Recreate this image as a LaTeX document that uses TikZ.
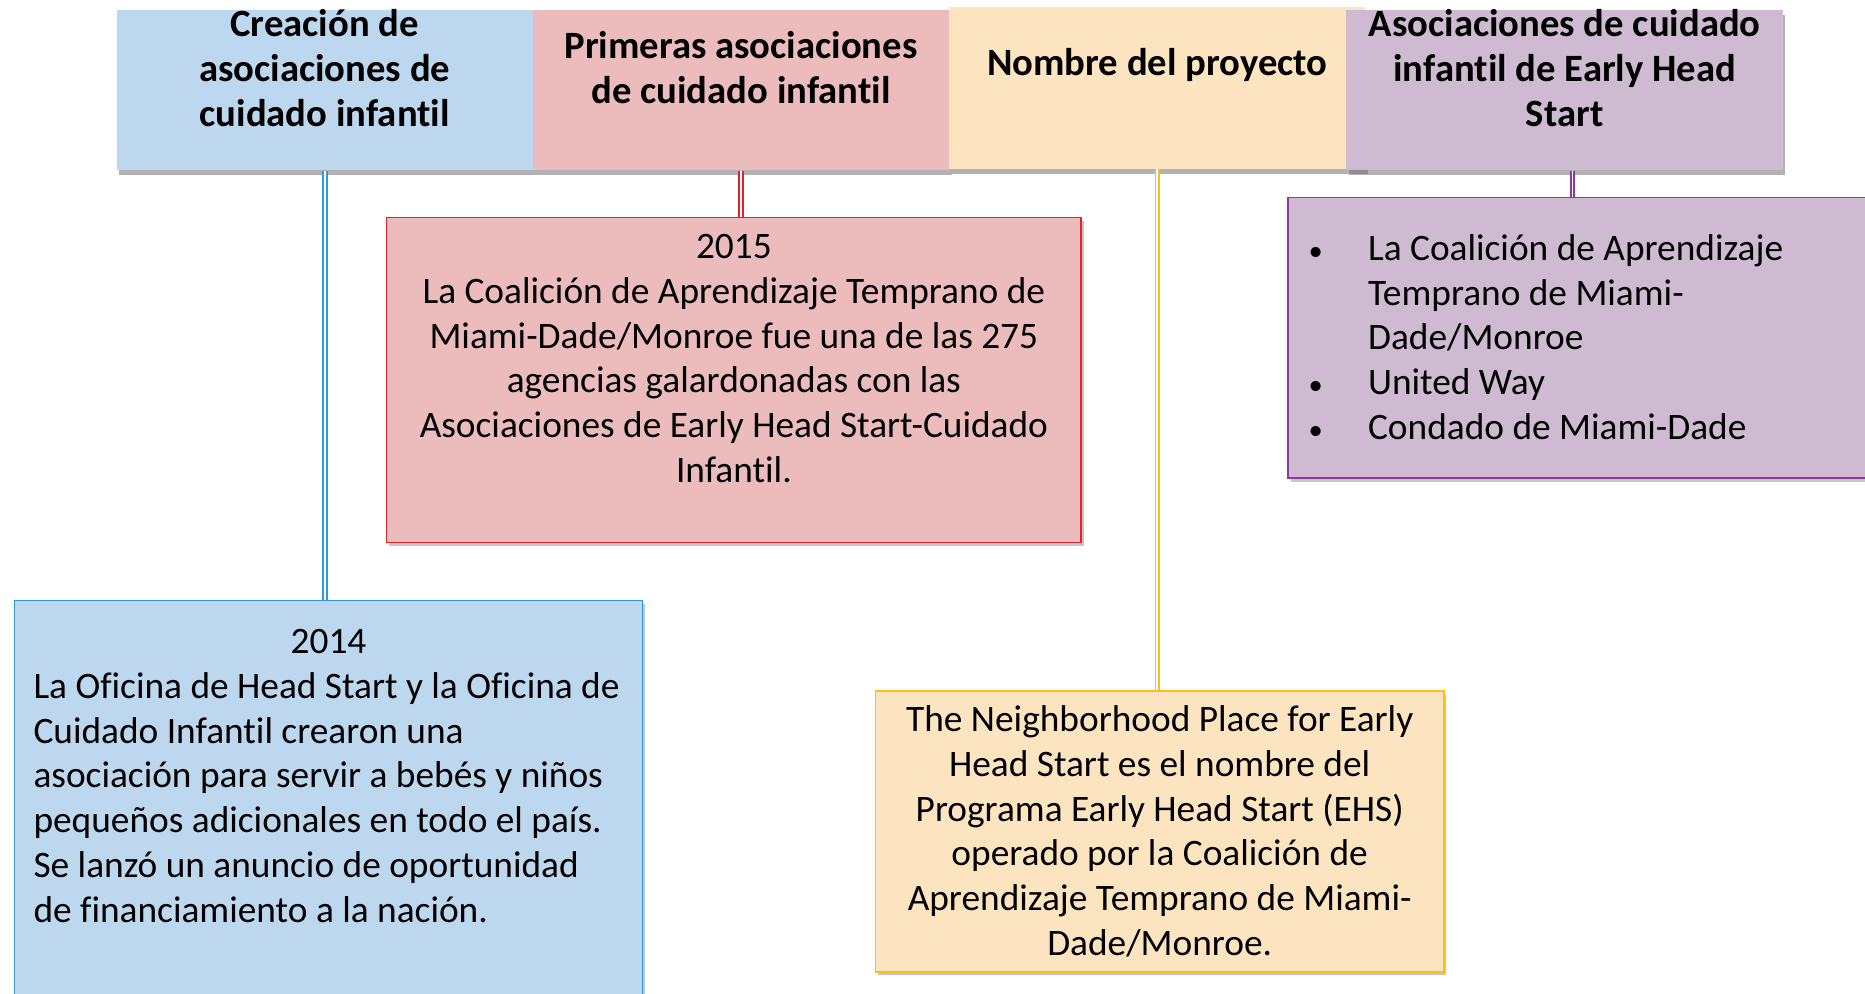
\documentclass[tikz,border=0pt]{standalone}
\usepackage{fontspec}
\setmainfont{Carlito}[Ligatures=NoCommon]
\usetikzlibrary{shadows}
\definecolor{blueFill}{HTML}{BDD7EE}
\definecolor{blueLine}{HTML}{2E9BD8}
\definecolor{redFill}{HTML}{ECBBBC}
\definecolor{redLine}{HTML}{E0242E}
\definecolor{yellowFill}{HTML}{FDE4C0}
\definecolor{yellowLine}{HTML}{FCBC22}
\definecolor{purpleFill}{HTML}{CEBBD2}
\definecolor{purpleLine}{HTML}{8F36A0}
\def\bodysize{\fontsize{31.4}{37.6}\selectfont}
\def\headsize{\fontsize{32.5}{37.8}\selectfont}
\def\bul{\makebox[50pt][l]{\fontsize{24}{24}\selectfont\textbullet}}
\def\nobul{\hspace*{50pt}}

\begin{document}
\begin{tikzpicture}[x=1pt, y=-1pt,
		head/.style={rectangle, inner sep=0, minimum height=135pt,
			drop shadow={shadow xshift=2pt, shadow yshift=-4pt, fill=black!55, opacity=0.55}},
		headtxt/.style={font=\headsize\bfseries, align=center, inner sep=0},
		card/.style={rectangle, draw, line width=1.3pt, inner sep=0,
			drop shadow={shadow xshift=2pt, shadow yshift=-3pt, fill=black!50, opacity=0.45}},
		cardtxt/.style={font=\bodysize, inner sep=0},
		link/.style={double=white, line width=1.6pt, double distance=1.5pt}]
			%%%%% START %%%%%
			\useasboundingbox[fill=white] (0,0) rectangle (1568,835);
			
			% headers
			\node[head, fill=blueFill, minimum width=350pt] (hdCreacion) at (273,75.8) {};
			\node[head, fill=redFill, minimum width=350pt] (hdPrimeras) at (623,75.8) {};
			\node[head, fill=yellowFill, minimum width=350pt, minimum height=136pt] (hdNombre) at (973,74) {};
			\node[head, fill=purpleFill, minimum width=367pt] (hdEarly) at (1315.5,75.8) {};
			
			\node[headtxt] (txCreacion) at ([yshift=18.8pt]hdCreacion.center) {Creación de\\asociaciones de\\cuidado infantil};
			\node[headtxt] (txPrimeras) at ([yshift=18.8pt]hdPrimeras.center) {Primeras asociaciones\\de cuidado infantil};
			\node[headtxt] (txNombre) at ([yshift=19pt]hdNombre.center) {Nombre del proyecto};
			\node[headtxt] (txEarly) at ([yshift=18.8pt]hdEarly.center) {Asociaciones de cuidado\\infantil de Early Head\\Start};
			
			% cards
			\node[card, draw=blueLine, fill=blueFill, minimum width=528pt, minimum height=340pt] (cd2014) at (276,675) {};
			\node[card, draw=redLine, fill=redFill, minimum width=584pt, minimum height=273pt] (cd2015) at (617,319.5) {};
			\node[card, draw=yellowLine, fill=yellowFill, minimum width=478pt, minimum height=236pt] (cdNombre) at (975,699) {};
			\node[card, draw=purpleLine, fill=purpleFill, minimum width=497pt, minimum height=236pt] (cdEarly) at (1331.5,284) {};
			
			% connectors
			\draw[link, draw=blueLine] (hdCreacion.south) -- (hdCreacion.south |- cd2014.north);
			\draw[link, draw=redLine] (hdPrimeras.south) -- (hdPrimeras.south |- cd2015.north);
			\draw[link, draw=yellowLine] (hdNombre.south) -- (hdNombre.south |- cdNombre.north);
			\draw[link, draw=purpleLine] ([xshift=6.5pt]hdEarly.south) -- ([xshift=6.5pt]hdEarly.south |- cdEarly.north);
			
			% texts
			\node[cardtxt, align=left, anchor=north west] (tx2014) at (28,529) {\makebox[496pt]{2014}\\La Oficina de Head Start y la Oficina de\\Cuidado Infantil crearon una\\asociación para servir a bebés y niños\\pequeños adicionales en todo el país.\\Se lanzó un anuncio de oportunidad\\de financiamiento a la nación.};
			\node[cardtxt, align=center, anchor=north] (tx2015) at (617,197) {2015\\La Coalición de Aprendizaje Temprano de\\Miami-Dade/Monroe fue una de las 275\\agencias galardonadas con las\\Asociaciones de Early Head Start-Cuidado\\Infantil.};
			\node[cardtxt, align=center] (txNombre2) at (975,699) {The Neighborhood Place for Early\\Head Start es el nombre del\\Programa Early Head Start (EHS)\\operado por la Coalición de\\Aprendizaje Temprano de Miami-\\Dade/Monroe.};
			\node[cardtxt, align=left, anchor=north west] (txEarly2) at (1100,197) {\bul La Coalición de Aprendizaje\\\nobul Temprano de Miami-\\\nobul Dade/Monroe\\\bul United Way\\\bul Condado de Miami-Dade};
			
			%%%%% END %%%%%
\end{tikzpicture}
\end{document}
